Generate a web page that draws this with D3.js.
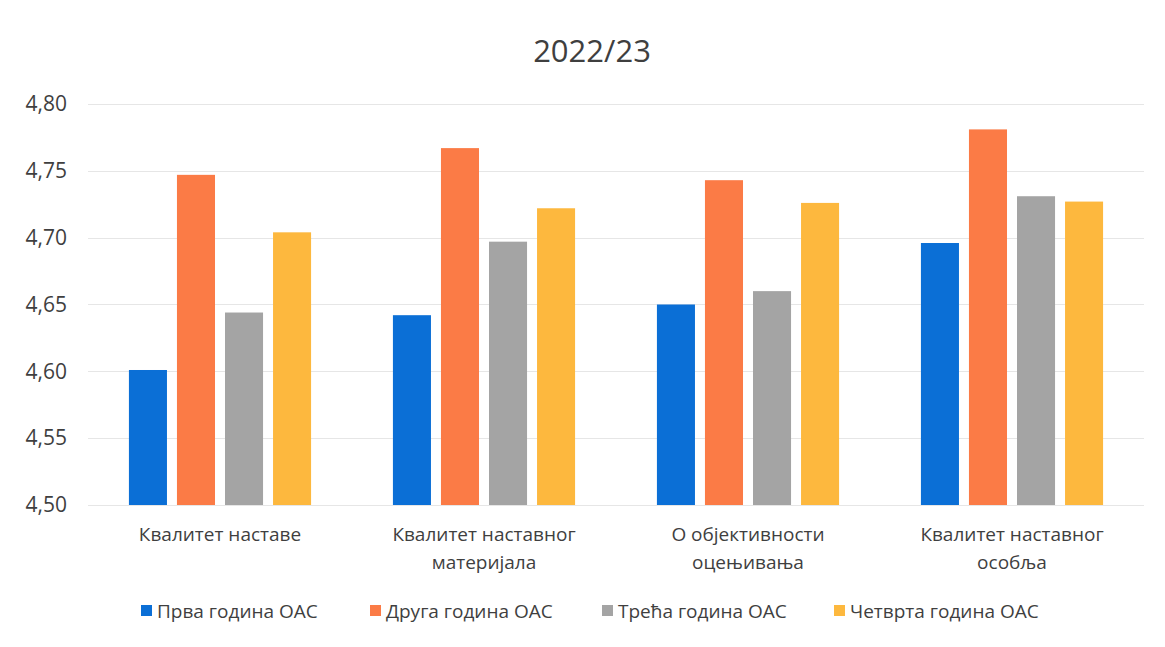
<!DOCTYPE html>
<html>
<head>
<meta charset="utf-8">
<script src="https://cdn.jsdelivr.net/npm/d3@7"></script>
<style>
  body { margin: 0; background: #fff; }
  svg { font-family: "Open Sans", "Noto Sans", sans-serif; }
</style>
</head>
<body>
<div id="chart"></div>
<script>
(function() {
  const width = 1165
  const height = 647

  const title = '2022/23'
  const categories = [
    ['Квалитет наставе'],
    ['Квалитет наставног', 'материјала'],
    ['О објективности', 'оцењивања'],
    ['Квалитет наставног', 'особља']
  ]
  const seriesNames = ['Прва година ОАС', 'Друга година ОАС', 'Трећа година ОАС', 'Четврта година ОАС']
  const seriesColors = ['#0b6fd6', '#fb7b46', '#a4a4a4', '#fdb83e']
  const prva = [4.601, 4.642, 4.650, 4.696]
  const druga = [4.747, 4.767, 4.743, 4.781]
  const treca = [4.644, 4.697, 4.660, 4.731]
  const cetvrta = [4.704, 4.722, 4.726, 4.727]
  const yTicks = [4.50, 4.55, 4.60, 4.65, 4.70, 4.75, 4.80]

  const series = [prva, druga, treca, cetvrta]
  const margin = { top: 104, right: 21, bottom: 142, left: 88 }

  const svg = d3.select('#chart').append('svg')
      .attr('width', width)
      .attr('height', height)

  const x0 = d3.scaleBand()
      .domain(d3.range(categories.length))
      .range([margin.left, width - margin.right])
      .paddingInner(0.31)
      .paddingOuter(0.155)

  const x1 = d3.scaleBand()
      .domain(d3.range(series.length))
      .range([0, x0.bandwidth()])
      .paddingInner(0.208)

  const y = d3.scaleLinear()
      .domain([4.50, 4.80])
      .range([height - margin.bottom, margin.top])

  const fmt = d => d3.format('.2f')(d).replace('.', ',')

  // grid
  svg.append('g')
      .attr('stroke', '#e6e6e6')
      .attr('stroke-width', 1)
    .selectAll('line')
    .data(yTicks)
    .enter().append('line')
      .attr('x1', margin.left)
      .attr('x2', width - margin.right)
      .attr('y1', d => Math.round(y(d)) + 0.5)
      .attr('y2', d => Math.round(y(d)) + 0.5)

  // y axis labels
  const yAxis = svg.append('g')
      .attr('transform', `translate(${margin.left - 21},0)`)
      .call(d3.axisLeft(y).tickValues(yTicks).tickFormat(fmt).tickSize(0).tickPadding(0))
  yAxis.select('.domain').remove()
  yAxis.selectAll('text')
      .attr('font-family', '"Open Sans", sans-serif')
      .attr('font-size', 21)
      .attr('fill', '#3f3f3f')

  // bars
  const groups = svg.append('g')
    .selectAll('g')
    .data(categories.map((c, i) => i))
    .enter().append('g')
      .attr('transform', i => `translate(${x0(i)},0)`)

  groups.selectAll('rect')
    .data(i => series.map((s, k) => ({ k, v: s[i] })))
    .enter().append('rect')
      .attr('x', d => x1(d.k))
      .attr('width', x1.bandwidth())
      .attr('y', d => y(d.v))
      .attr('height', d => y(4.50) - y(d.v))
      .attr('fill', d => seriesColors[d.k])

  // category labels
  const catText = svg.append('g')
      .attr('font-size', 19)
      .attr('fill', '#3f3f3f')
      .attr('text-anchor', 'middle')
    .selectAll('text')
    .data(categories)
    .enter().append('text')
      .attr('x', (d, i) => x0(i) + x0.bandwidth() / 2)
      .attr('y', 541)
  catText.selectAll('tspan')
    .data(d => d)
    .enter().append('tspan')
      .attr('x', function() { return this.parentNode.getAttribute('x') })
      .attr('dy', (d, i) => i === 0 ? 0 : 28)
      .text(d => d)

  // title
  svg.append('text')
      .attr('x', 592)
      .attr('y', 62)
      .attr('text-anchor', 'middle')
      .attr('font-size', 31)
      .attr('fill', '#3f3f3f')
      .text(title)

  // legend
  const legendX = [141, 370, 602, 834]
  const legend = svg.append('g')
    .selectAll('g')
    .data(seriesNames)
    .enter().append('g')
      .attr('transform', (d, i) => `translate(${legendX[i]},611)`)
  legend.append('rect')
      .attr('x', 0)
      .attr('y', -6)
      .attr('width', 11)
      .attr('height', 11)
      .attr('fill', (d, i) => seriesColors[i])
  legend.append('text')
      .attr('x', 16)
      .attr('y', 7)
      .attr('font-size', 19)
      .attr('fill', '#3f3f3f')
      .text(d => d)
})()
</script>
</body>
</html>
